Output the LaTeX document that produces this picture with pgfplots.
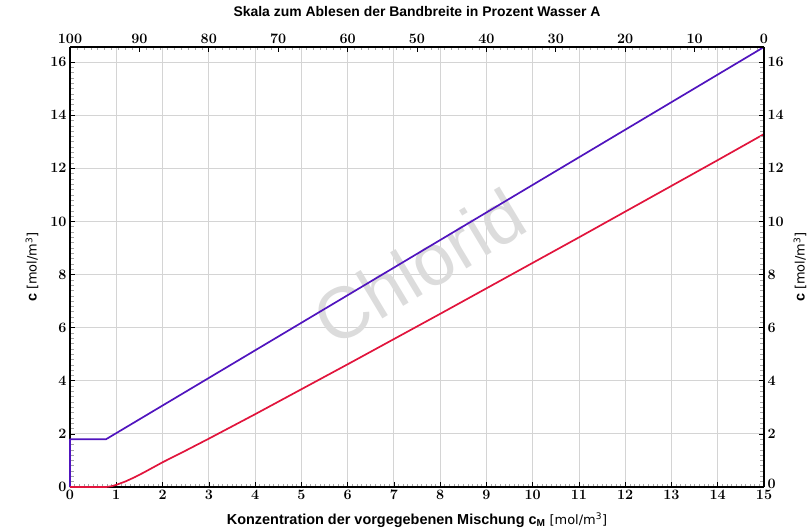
\documentclass[border=0pt]{standalone}
\usepackage{fontspec}
\setmainfont{Liberation Sans}
\newfontfamily\unitfont{DejaVu Sans}
\usepackage{pgfplots}
\pgfplotsset{compat=1.18}
\definecolor{cpurple}{RGB}{80,20,190}
\definecolor{cred}{RGB}{225,20,60}
\definecolor{gridc}{RGB}{212,212,212}
\definecolor{wm}{RGB}{220,220,220}
\newcommand{\unitlabel}{{\unitfont\fontsize{13}{15}\selectfont [mol/m\textsuperscript{3}]}}
\begin{document}
\begin{tikzpicture}
\pgfplotsset{
  myaxis/.style={
    width=694bp, height=440bp, scale only axis,
    ymin=0, ymax=16.57,
    axis line style={line width=1.5bp, black},
    tick align=inside,
    major tick length=5bp, minor tick length=3.5bp,
    every tick/.style={black, line width=0.6bp},
    minor tick style={gray!70, line width=0.6bp},
    ticklabel style={font=\fontsize{15}{17}\selectfont\boldmath},
    ytick={0,2,...,16}, minor y tick num=9,
    label style={font=\fontsize{14.5}{16}\selectfont},
  }
}
\begin{axis}[myaxis,
  xmin=0, xmax=15,
  axis x line*=bottom, axis y line*=left,
  clip=false,
  xtick={0,...,15}, minor x tick num=9,
  grid=major, grid style={gridc, line width=0.8bp},
  xlabel={\textbf{Konzentration der vorgegebenen Mischung c\textsubscript{M}} \unitlabel},
  xlabel style={at={(rel axis cs:0.5,0)}, anchor=center, yshift=-33bp},
  ylabel={\textbf{c} \unitlabel},
  ylabel style={at={(rel axis cs:0,0.5)}, anchor=center, yshift=38bp},
]
\node[rotate=31, text=wm, font=\fontsize{73}{73}\selectfont] at (axis cs:7.55,8.3) {Chlorid};
\addplot[cpurple, line width=1.7bp, line join=round] coordinates {(0,0) (0,1.8) (0.78,1.8) (15,16.57)};
\addplot[cred, line width=1.7bp, line join=round] coordinates {
(0,0) (0.78,0) (0.9,0.03) (1.0,0.08) (1.2,0.21) (1.4,0.37) (1.6,0.55) (1.8,0.74) (2,0.93) (2.5,1.37) (3,1.82) (4,2.74) (5,3.68) (6,4.62) (7,5.57) (8,6.52) (9,7.48) (10,8.44) (11,9.40) (12,10.37) (13,11.34) (14,12.31) (15,13.29)};
\end{axis}
\begin{axis}[myaxis,
  xmin=0, xmax=100, x dir=reverse,
  axis x line*=top, axis y line*=right,
  xtick={0,10,...,100}, minor x tick num=9,
  xlabel={\textbf{Skala zum Ablesen der Bandbreite in Prozent Wasser A}},
  xlabel style={at={(rel axis cs:0.5,1)}, anchor=center, yshift=35bp, font=\fontsize{14}{16}\selectfont},
  ylabel={\textbf{c} \unitlabel},
  ylabel style={at={(rel axis cs:1,0.5)}, anchor=center, yshift=-36bp},
  yticklabels={\raisebox{6bp}{$0$},$2$,$4$,$6$,$8$,$10$,$12$,$14$,$16$},
]
\end{axis}
\pgfresetboundingbox
\useasboundingbox (-70bp,-41bp) rectangle (740bp,487bp);
\end{tikzpicture}
\end{document}
